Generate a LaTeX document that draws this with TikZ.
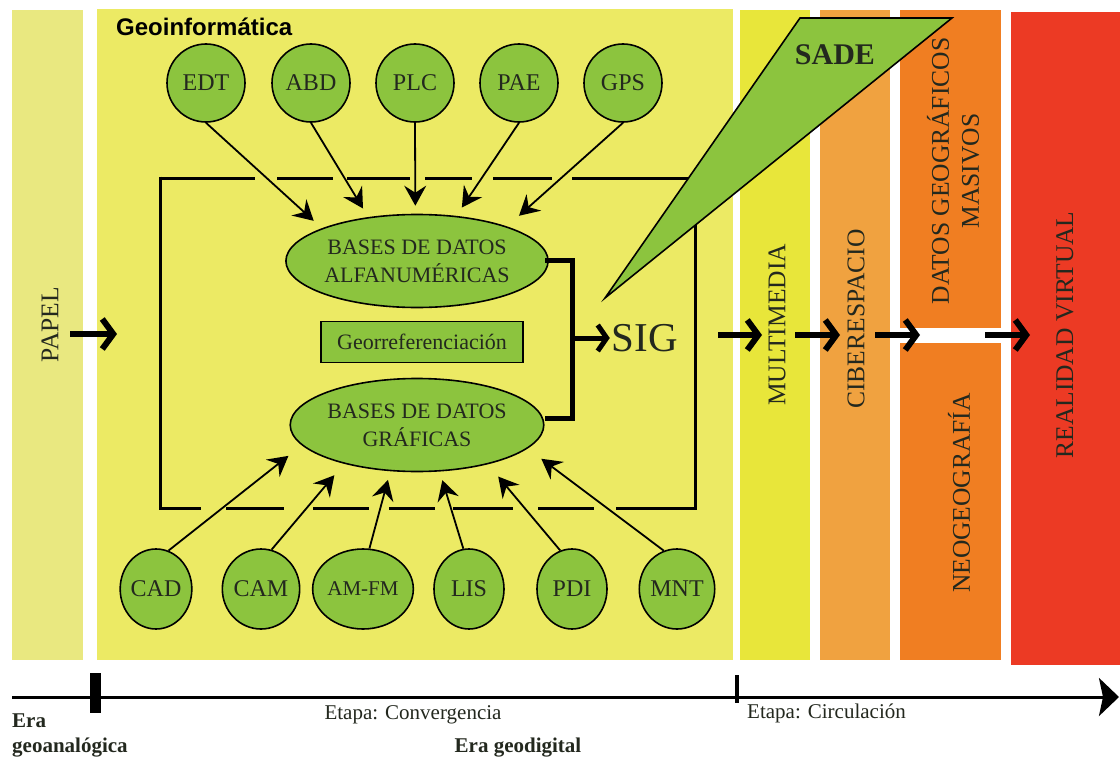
\documentclass[tikz,border=0pt]{standalone}
\usepackage{fontspec}
\setmainfont{Liberation Serif}
\newfontfamily\geosans{Liberation Sans}
\usetikzlibrary{arrows.meta,shapes.geometric}

\definecolor{papel}{RGB}{233,232,128}
\definecolor{geo}{RGB}{236,234,100}
\definecolor{multi}{RGB}{232,230,58}
\definecolor{ciber}{RGB}{240,162,64}
\definecolor{masivo}{RGB}{240,126,34}
\definecolor{realidad}{RGB}{236,58,36}
\definecolor{hoja}{RGB}{140,196,62}
\definecolor{tinta}{RGB}{35,40,30}

\tikzset{
  fuente/.style={circle, draw, line width=1.6pt, fill=hoja, minimum size=78pt,
    inner sep=0pt, text=tinta, font=\fontsize{24}{26}\selectfont},
  fuenteb/.style={ellipse, draw, line width=1.6pt, fill=hoja, minimum width=70pt,
    minimum height=80pt, inner sep=0pt, text=tinta, font=\fontsize{24}{26}\selectfont},
  base/.style={ellipse, draw, line width=1.6pt, fill=hoja, minimum width=236pt,
    minimum height=93pt, inner sep=0pt, align=center, text=tinta,
    font=\fontsize{22}{28}\selectfont},
  flecha/.style={-{Stealth[length=20pt,width=22pt,inset=7pt]}, line width=1.8pt},
  paso/.style={-{Straight Barb[length=11pt,width=30pt]}, line width=6pt},
  columna/.style={rotate=90, text=tinta, font=\fontsize{25.5}{30}\selectfont, align=center},
  pie/.style={text=tinta, font=\fontsize{21}{24}\selectfont, inner sep=0pt},
}

\begin{document}
\begin{tikzpicture}[x=1pt, y=-1pt]
  \useasboundingbox (0,0) rectangle (1120,760);
  \fill[white] (0,0) rectangle (1120,760);

  % Bands of the two eras.
  \fill[papel] (12,10) rectangle (83,660);
  \fill[geo] (97,9) rectangle (733,660);
  \fill[multi] (740,10) rectangle (810,660);
  \fill[ciber] (820,10) rectangle (890,660);
  \fill[masivo] (900,10) rectangle (1001,328);
  \fill[masivo] (900,343) rectangle (1001,660);
  \fill[realidad] (1011,12) rectangle (1120,665);

  \node[anchor=west, inner sep=0pt, font=\geosans\bfseries\fontsize{24}{26}\selectfont]
    (geoinf) at (116,27) {Geoinformática};

  \node[columna] (papel) at (50,325) {PAPEL};
  \node[columna] (multimedia) at (777,325) {MULTIMEDIA};
  \node[columna] (ciberespacio) at (856,319) {CIBERESPACIO};
  \node[columna] (masivos) at (953,171) {DATOS GEOGRÁFICOS\\MASIVOS};
  \node[columna] (neogeo) at (959,493) {NEOGEOGRAFÍA};
  \node[columna] (realidad) at (1065,335) {REALIDAD VIRTUAL};

  % Open frame round the two databases.
  \draw[line width=3pt] (160,176.5) -- (160,509.5);
  \draw[line width=3pt] (695,176.5) -- (695,509.5);
  \draw[line width=3pt, dash pattern=on 95pt off 22pt on 56pt off 14pt on 63pt off 15pt
    on 47pt off 21pt on 59pt off 20pt on 123pt] (160,178) -- (695,178);
  \draw[line width=3pt, dash pattern=on 41pt off 25pt on 58pt off 29pt on 56pt off 20pt
    on 46pt off 18pt on 60pt off 25pt on 56pt off 22pt on 79pt] (160,508) -- (695,508);

  \node[base] (bda) at (417,261) {BASES DE DATOS\\ALFANUMÉRICAS};
  \node[base] (bdg) at (417,425) {BASES DE DATOS\\GRÁFICAS};
  \node[draw, line width=1.6pt, fill=hoja, minimum width=202pt, minimum height=41pt,
    text=tinta, font=\fontsize{22}{24}\selectfont] (georef) at (422,342) {Georreferenciación};

  \node[fuente] (edt) at (206,83) {EDT};
  \node[fuente] (abd) at (311,83) {ABD};
  \node[fuente] (plc) at (415,83) {PLC};
  \node[fuente] (pae) at (519,83) {PAE};
  \node[fuente] (gps) at (623,83) {GPS};

  \node[fuenteb] (cad) at (156,589) {CAD};
  \node[fuenteb] (cam) at (261,589) {CAM};
  \node[fuenteb, font=\fontsize{21}{24}\selectfont] (amfm) at (363,589) {AM-FM};
  \node[fuenteb] (lis) at (469,589) {LIS};
  \node[fuenteb] (pdi) at (572,589) {PDI};
  \node[fuenteb] (mnt) at (677,589) {MNT};

  \draw[flecha, shorten >=11pt] (edt.south) -- (bda.161);
  \draw[flecha, shorten >=10pt] (abd.south) -- (bda.138);
  \draw[flecha, shorten >=8pt] (plc.south) -- (bda.92);
  \draw[flecha, shorten >=10pt] (pae.south) -- (bda.49);
  \draw[flecha, shorten >=16pt] (gps.south) -- (bda.21);

  \draw[flecha, shorten >=17pt] (cad.72) -- (bdg.190);
  \draw[flecha, shorten >=15pt] (cam.75) -- (bdg.208);
  \draw[flecha, shorten >=9pt] (amfm.81) -- (bdg.240);
  \draw[flecha, shorten >=9pt] (lis.98) -- (bdg.296);
  \draw[flecha, shorten >=16pt] (pdi.107) -- (bdg.331);
  \draw[flecha, shorten >=17pt] (mnt.109) -- (bdg.348);

  % Bracket joining both databases into the GIS.
  \draw[line width=5pt] (545,260) -- (572,260) -- (572,418) -- (545,418);
  \node[inner sep=2pt, text=tinta, font=\fontsize{41}{44}\selectfont] (sig) at (645,338) {SIG};
  \coordinate (llave) at (572,338);
  \draw[-{Straight Barb[length=9pt,width=26pt]}, line width=5pt] (llave) -- (sig.west);

  \draw[line width=1.6pt, fill=hoja] (800,18) -- (952,18) -- (605,298) -- cycle;
  \node[font=\bfseries\fontsize{30}{32}\selectfont, text=tinta] (sade) at (835,55) {SADE};

  % Steps from one band to the next.
  \coordinate (p0) at (70,334);  \coordinate (p1) at (117,334);
  \coordinate (m0) at (718,335); \coordinate (m1) at (762,335);
  \coordinate (c0) at (795,335); \coordinate (c1) at (840,335);
  \coordinate (d0) at (875,335); \coordinate (d1) at (920,335);
  \coordinate (r0) at (985,335); \coordinate (r1) at (1030,335);
  \draw[paso] (p0) -- (p1);
  \draw[paso] (m0) -- (m1);
  \draw[paso] (c0) -- (c1);
  \draw[paso] (d0) -- (d1);
  \draw[paso] (r0) -- (r1);

  % Time line.
  \coordinate (t0) at (12,697);
  \coordinate (t1) at (1119,697);
  \draw[line width=3pt, -{Stealth[length=20pt,width=38pt,inset=4pt]}] (t0) -- (t1);
  \fill (90,673) rectangle (101,713);
  \fill (735,675) rectangle (739,703);

  \node[pie, anchor=west, font=\bfseries\fontsize{21}{24}\selectfont] (era) at (12,721) {Era};
  \node[pie, anchor=west, font=\bfseries\fontsize{21}{24}\selectfont] (geoanalogica) at (12,748) {geoanalógica};
  \node[pie] (convergencia) at (413,715) {Etapa: Convergencia};
  \node[pie, anchor=west] (circulacion) at (747,713) {Etapa: Circulación};
  \node[pie, font=\bfseries\fontsize{21}{24}\selectfont] (geodigital) at (518,748) {Era geodigital};
\end{tikzpicture}
\end{document}
